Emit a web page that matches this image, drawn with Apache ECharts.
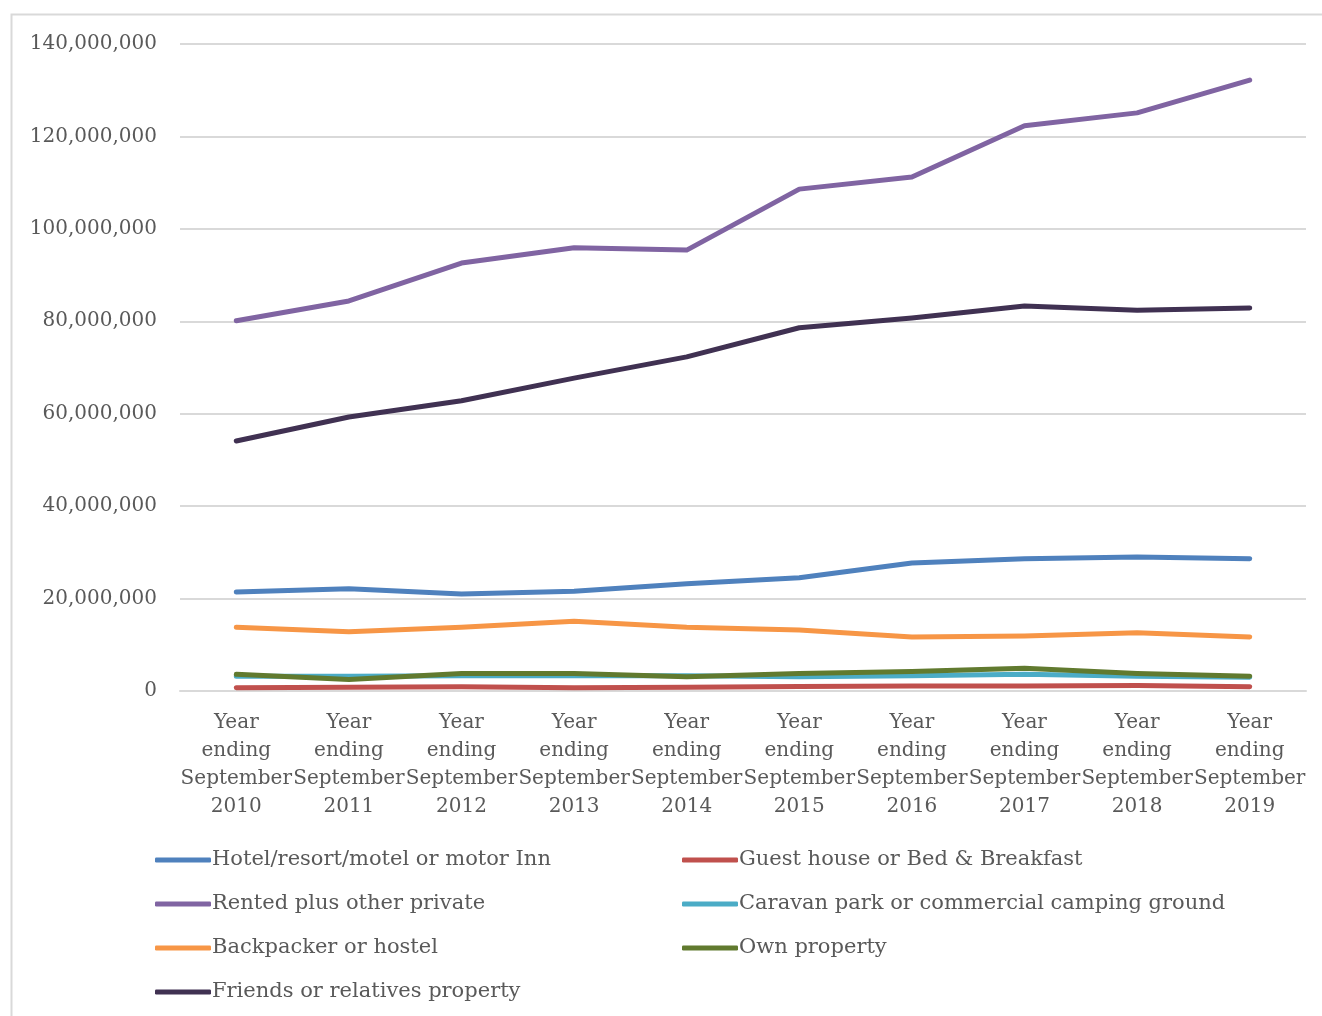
<!DOCTYPE html>
<html>
<head>
<meta charset="utf-8">
<script src="https://cdn.jsdelivr.net/npm/echarts@6/dist/echarts.min.js"></script>
<style>
  html,body{margin:0;padding:0;background:#fff;}
  #chart{width:1322px;height:1016px;}
</style>
</head>
<body>
<div id="chart"></div>
<script>
// categories
var years = ['2010','2011','2012','2013','2014','2015','2016','2017','2018','2019'];
var categories = years.map(function(y){ return 'Year\nending\nSeptember\n' + y; });

// visitor nights by accommodation type
var hotel      = [21400000,22100000,21000000,21600000,23200000,24500000,27700000,28600000,29000000,28600000];
var guest      = [700000,800000,900000,700000,800000,1000000,1100000,1100000,1200000,900000];
var rented     = [80100000,84400000,92600000,95900000,95400000,108600000,111200000,122300000,125100000,132200000];
var caravan    = [3200000,3200000,3300000,3300000,3300000,3100000,3300000,3600000,3200000,3000000];
var backpacker = [13800000,12800000,13800000,15100000,13800000,13200000,11700000,11900000,12600000,11700000];
var own        = [3600000,2500000,3800000,3800000,3100000,3800000,4200000,4900000,3800000,3200000];
var friends    = [54100000,59300000,62800000,67700000,72300000,78600000,80700000,83300000,82400000,82900000];

var seriesNames = [
    'Hotel/resort/motel or motor Inn',
    'Guest house or Bed & Breakfast',
    'Rented plus other private',
    'Caravan park or commercial camping ground',
    'Backpacker or hostel',
    'Own property',
    'Friends or relatives property'
];
var seriesData = [hotel, guest, rented, caravan, backpacker, own, friends];
var colors = ['#4F81BD','#C0504D','#8064A2','#4BACC6','#F79646','#617A2F','#403152'];

var font = '"DejaVu Serif", serif';
var textColor = '#595959';

var myChart = echarts.init(document.getElementById('chart'));

var series = seriesNames.map(function(name, i){
    return {
        name: name,
        type: 'line',
        data: seriesData[i],
        showSymbol: false,
        symbol: 'none',
        lineStyle: { width: 5, color: colors[i], cap: 'round', join: 'round' },
        itemStyle: { color: colors[i] },
        emphasis: { disabled: true },
        z: 2 + i
    };
});

var legendBase = {
    orient: 'vertical',
    icon: 'roundRect',
    itemWidth: 56,
    itemHeight: 5,
    itemGap: 20,
    textStyle: { fontFamily: font, fontSize: 21, color: textColor, lineHeight: 24, padding: [0,0,0,-4] },
    selectedMode: false
};

var option = {
    animation: false,
    backgroundColor: '#fff',
    color: colors,
    graphic: [{
        type: 'rect',
        shape: { x: 11.5, y: 14.5, width: 1330, height: 1020 },
        style: { fill: 'none', stroke: '#d9d9d9', lineWidth: 2 },
        silent: true
    }],
    grid: { left: 180, right: 16, top: 44, bottom: 325, containLabel: false },
    legend: [
        Object.assign({}, legendBase, { left: 150, top: 843, data: [seriesNames[0], seriesNames[2], seriesNames[4], seriesNames[6]] }),
        Object.assign({}, legendBase, { left: 677, top: 843, data: [seriesNames[1], seriesNames[3], seriesNames[5]] })
    ],
    xAxis: {
        type: 'category',
        data: categories,
        boundaryGap: true,
        axisLine: { lineStyle: { color: '#d9d9d9', width: 2 } },
        axisTick: { show: false },
        axisLabel: {
            interval: 0,
            margin: 18,
            fontFamily: font,
            fontSize: 20,
            lineHeight: 28,
            color: textColor,
            align: 'center'
        }
    },
    yAxis: {
        type: 'value',
        min: 0,
        max: 140000000,
        interval: 20000000,
        axisLine: { show: false },
        axisTick: { show: false },
        splitLine: { lineStyle: { color: '#d9d9d9', width: 2 } },
        axisLabel: {
            margin: 23,
            fontFamily: font,
            fontSize: 20,
            color: textColor,
            formatter: function(v){ return v.toLocaleString('en-US'); }
        }
    },
    series: series
};

myChart.setOption(option);
</script>
</body>
</html>
